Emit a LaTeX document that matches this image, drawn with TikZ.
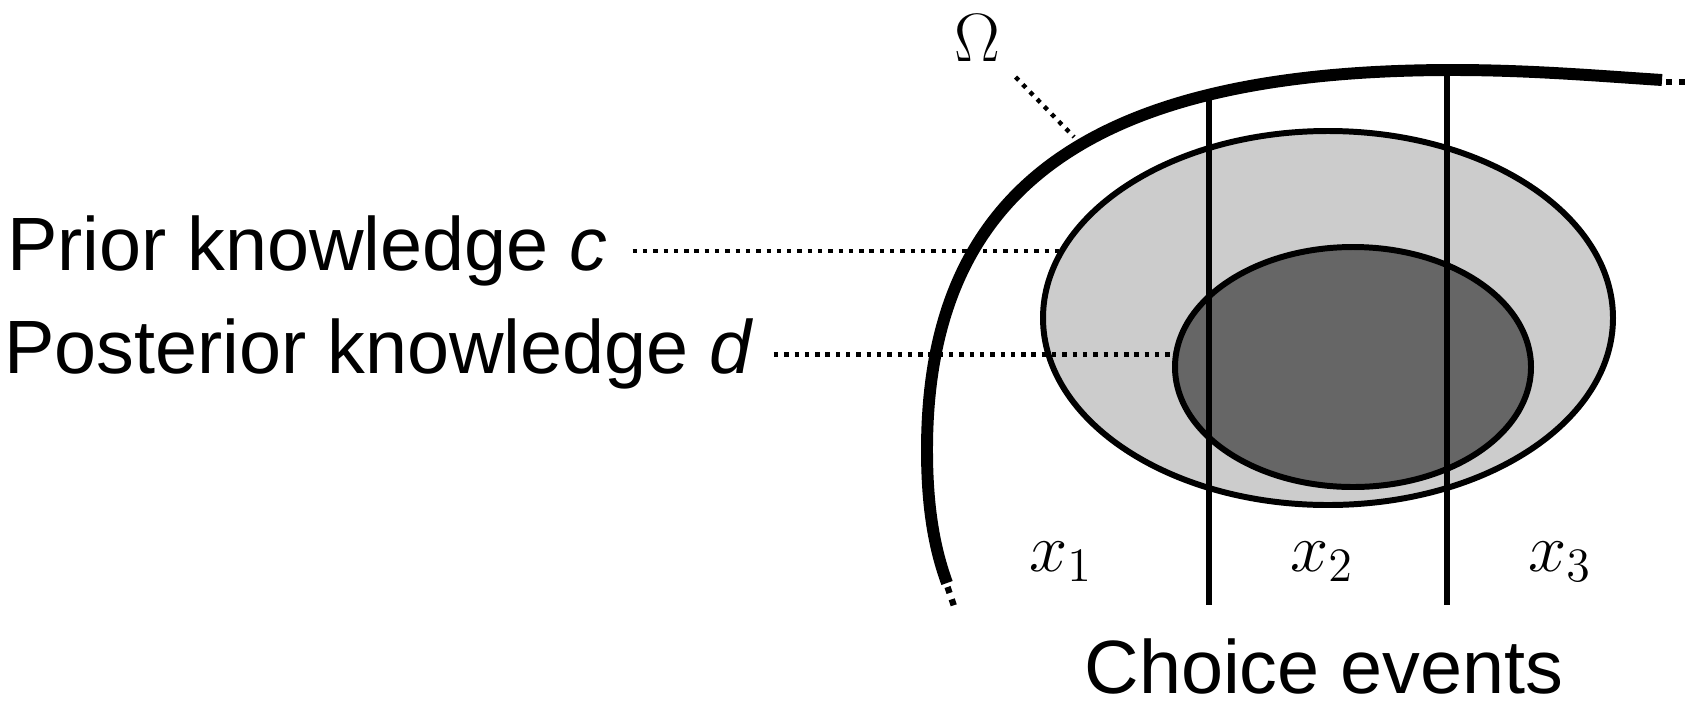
\documentclass[tikz,border=0pt]{standalone}
\usepackage{fix-cm}
\usepackage{fontspec}
\newfontfamily\labelfont{Liberation Sans}
\usepackage{tikz}
\usetikzlibrary{
	positioning,
	shapes.geometric
}
\tikzset{
  % curve
	cstomega/.style   ={line width=3.4pt},                               % Omega
	cstomegae/.style  ={line width=1.8pt, dash pattern=on 1.8pt off 1.9pt}, % Omega continues
	cstcut/.style     ={line width=1.45pt},                              % cut lines
	cstdotline/.style ={line width=1.25pt, dash pattern=on 1.25pt off 1.68pt},
  % node
	cstset1/.style    ={ellipse,draw=black,fill=black!20,line width=1.7pt,inner sep=0},
	cstset2/.style    ={ellipse,draw=black,fill=black!60,line width=1.7pt,inner sep=0},
	csttext/.style    ={font=\labelfont\fontsize{21.5}{26}\selectfont,inner sep=0},
	cstmath/.style    ={font=\fontsize{19.5}{23}\selectfont}
}
\begin{document}
\begin{tikzpicture}
	\useasboundingbox (0,0) rectangle (17,7.06);
	% sets
	\node[cstset1,minimum width=5.70cm,minimum height=3.74cm] (c) at (13.28,3.88) {};
	\node[cstset2,minimum width=3.56cm,minimum height=2.40cm] (d) at (13.53,3.39) {};
	% choice events
	\coordinate (cut1t) at (12.09,6.13);
	\coordinate (cut1b) at (12.09,1.01);
	\coordinate (cut2t) at (14.47,6.36);
	\coordinate (cut2b) at (14.47,1.01);
	\draw[cstcut] (cut1t)--(cut1b);
	\draw[cstcut] (cut2t)--(cut2b);
	% Omega
	\draw[cstomega] (9.47,1.23) .. controls (9.35,1.56) and (9.27,1.96) .. (9.27,2.56)
		.. controls (9.27,5.17) and (10.90,6.36) .. (14.53,6.36)
		.. controls (15.30,6.36) and (16.00,6.30) .. (16.62,6.26);
	\coordinate (omegaa) at (9.475,1.19);
	\coordinate (omegaa2) at (9.54,1.00);
	\coordinate (omegab) at (16.66,6.24);
	\coordinate (omegab2) at (16.86,6.24);
	\draw[cstomegae] (omegaa)--(omegaa2);
	\draw[cstomegae] (omegab)--(omegab2);
	\node[cstmath,inner sep=0.15cm] (omega) at (9.77,6.68) {$\Omega$};
	\coordinate (omegahit) at (10.74,5.69);
	\draw[cstdotline] (omega.south east)--(omegahit);
	% labels
	\coordinate (cpin) at (c.166.3);
	\coordinate (dpin) at (d.176.4);
	\node[csttext,outer xsep=0.25cm,left=4.26cm of cpin] (clabel) {Prior knowledge \textit{c}};
	\node[csttext,outer xsep=0.2cm,left=3.99cm of dpin] (dlabel) {Posterior knowledge \textit{d}};
	\draw[cstdotline] (clabel.east)--(cpin);
	\draw[cstdotline] (dlabel.east)--(dpin);
	\begin{scope}[cstmath]
		\node[anchor=base] (x1) at (10.61,1.35) {$x_1$};
		\node[anchor=base] (x2) at (13.22,1.35) {$x_2$};
		\node[anchor=base] (x3) at (15.60,1.35) {$x_3$};
	\end{scope}
	\node[csttext,anchor=base] (events) at (13.24,0.13) {Choice events};
\end{tikzpicture}
\end{document}
